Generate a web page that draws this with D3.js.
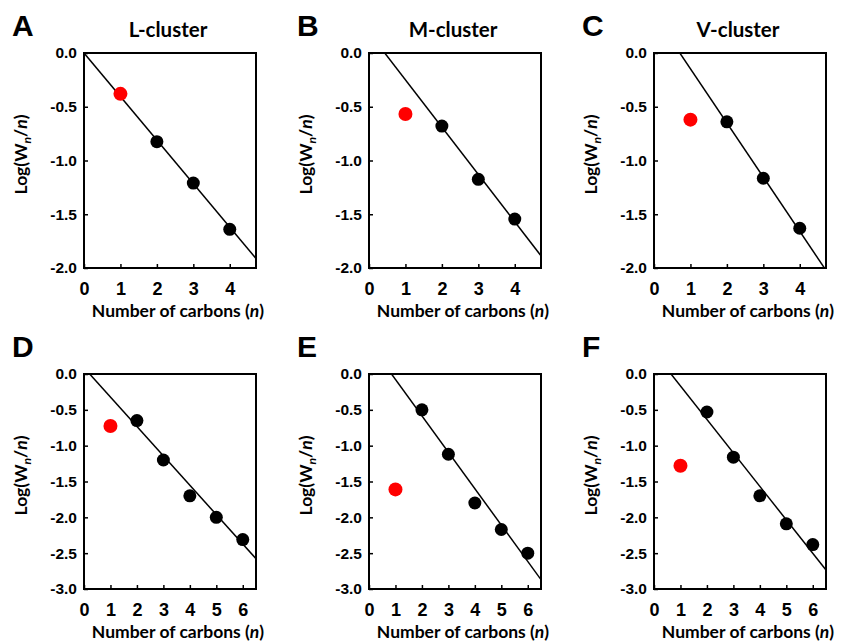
<!DOCTYPE html>
<html>
<head>
<meta charset="utf-8">
<script src="https://cdn.jsdelivr.net/npm/d3@7"></script>
<style>
  body { margin: 0; background: #fff; }
  .tick text { font-family: "Liberation Sans", Arial, sans-serif; font-weight: bold; fill: #000; }
  .lbl { font-family: Lato, "Open Sans", sans-serif; font-weight: bold; fill: #000; }
</style>
</head>
<body>
<svg id="chart" width="844" height="644"></svg>
<script>
// Panel identifiers and cluster names
const panelLetters = ["A", "B", "C", "D", "E", "F"];
const clusterTitles = ["L-cluster", "M-cluster", "V-cluster", "", "", ""];

// Number of carbons (n) for each row of panels
const carbonsTop = [1, 2, 3, 4];
const carbonsBottom = [1, 2, 3, 4, 5, 6];

// Log(Wn/n) per panel; the first value (n = 1) is drawn in red
const logA = [-0.38, -0.825, -1.21, -1.64];
const logB = [-0.567, -0.68, -1.175, -1.545];
const logC = [-0.62, -0.64, -1.165, -1.63];
const logD = [-0.725, -0.65, -1.20, -1.70, -2.00, -2.31];
const logE = [-1.61, -0.50, -1.12, -1.80, -2.17, -2.50];
const logF = [-1.28, -0.53, -1.16, -1.70, -2.09, -2.38];

// Linear fit (slope, intercept) drawn in each panel
const fitSlopes = [-0.405, -0.44, -0.504, -0.41, -0.508, -0.467];
const fitIntercepts = [0.0, 0.19, 0.357, 0.088, 0.432, 0.30];

// Axis ticks
const xTicksTop = [0, 1, 2, 3, 4];
const xTicksBottom = [0, 1, 2, 3, 4, 5, 6];
const yTicksTop = [0, -0.5, -1.0, -1.5, -2.0];
const yTicksBottom = [0, -0.5, -1.0, -1.5, -2.0, -2.5, -3.0];

const svg = d3.select("#chart");

const colLeft = [84, 369, 654];
const rowTop = [53, 374];
const W = 172, H = 215;

const panels = [
  { values: logA, n: carbonsTop, xMax: 4.72, yMin: -2, xt: xTicksTop, yt: yTicksTop },
  { values: logB, n: carbonsTop, xMax: 4.72, yMin: -2, xt: xTicksTop, yt: yTicksTop },
  { values: logC, n: carbonsTop, xMax: 4.72, yMin: -2, xt: xTicksTop, yt: yTicksTop },
  { values: logD, n: carbonsBottom, xMax: 6.5, yMin: -3, xt: xTicksBottom, yt: yTicksBottom },
  { values: logE, n: carbonsBottom, xMax: 6.5, yMin: -3, xt: xTicksBottom, yt: yTicksBottom },
  { values: logF, n: carbonsBottom, xMax: 6.5, yMin: -3, xt: xTicksBottom, yt: yTicksBottom }
];

panels.forEach((p, i) => {
  const left = colLeft[i % 3], top = rowTop[Math.floor(i / 3)];
  const g = svg.append("g").attr("transform", `translate(${left},${top})`);
  const x = d3.scaleLinear().domain([0, p.xMax]).range([0, W]);
  const y = d3.scaleLinear().domain([p.yMin, 0]).range([H, 0]);

  const clipId = "clip" + i;
  g.append("clipPath").attr("id", clipId)
    .append("rect").attr("width", W).attr("height", H);

  // axes with inward ticks
  const xAxis = d3.axisBottom(x).tickValues(p.xt).tickSizeInner(-4).tickSizeOuter(0)
    .tickPadding(14).tickFormat(d3.format("d"));
  const yAxis = d3.axisLeft(y).tickValues(p.yt).tickSizeInner(-4).tickSizeOuter(0)
    .tickPadding(7).tickFormat(d => d.toFixed(1));

  const gx = g.append("g").attr("transform", `translate(0,${H})`).call(xAxis);
  const gy = g.append("g").call(yAxis);
  [gx, gy].forEach(a => {
    a.select(".domain").remove();
    a.selectAll(".tick line").attr("stroke", "#000").attr("stroke-width", 1.5);
  });
  gx.selectAll(".tick text").style("font-size", "18px");
  gy.selectAll(".tick text").style("font-size", "15.5px");

  // fitted line
  const fitLine = d3.line().x(d => x(d)).y(d => y(fitSlopes[i] * d + fitIntercepts[i]));
  g.append("path")
    .attr("clip-path", `url(#${clipId})`)
    .attr("d", fitLine([0, p.xMax]))
    .attr("fill", "none").attr("stroke", "#000").attr("stroke-width", 1.5);

  // data points
  g.selectAll("circle").data(p.values).join("circle")
    .attr("cx", (d, k) => x(p.n[k]))
    .attr("cy", d => y(d))
    .attr("r", (d, k) => k === 0 ? 7 : 6.5)
    .attr("fill", (d, k) => k === 0 ? "#ff0000" : "#000");

  // frame
  g.append("rect").attr("width", W).attr("height", H)
    .attr("fill", "none").attr("stroke", "#000").attr("stroke-width", 2);

  // panel letter
  g.append("text").attr("x", -72).attr("y", -17)
    .style("font-family", "'Liberation Sans', Arial, sans-serif")
    .style("font-weight", "bold").style("font-size", "30px").text(panelLetters[i]);

  // title
  if (clusterTitles[i]) {
    g.append("text").attr("class", "lbl").attr("x", W / 2 - 2).attr("y", -16)
      .attr("text-anchor", "middle").style("font-size", "20.5px").text(clusterTitles[i]);
  }

  // x label
  const xl = g.append("text").attr("class", "lbl").attr("x", W / 2 + 8).attr("y", H + 49)
    .attr("text-anchor", "middle").style("font-size", "17.5px");
  xl.append("tspan").text("Number of carbons (");
  xl.append("tspan").style("font-style", "italic").text("n");
  xl.append("tspan").text(")");

  // y label
  const yl = g.append("text").attr("class", "lbl")
    .attr("transform", `translate(-57,${H / 2 - 6}) rotate(-90)`)
    .attr("text-anchor", "middle").style("font-size", "17.5px");
  yl.append("tspan").text("Log(W");
  yl.append("tspan").attr("dy", 4).style("font-style", "italic").style("font-size", "12px").text("n");
  yl.append("tspan").attr("dy", -4).text("/");
  yl.append("tspan").style("font-style", "italic").text("n");
  yl.append("tspan").text(")");
});
</script>
</body>
</html>
